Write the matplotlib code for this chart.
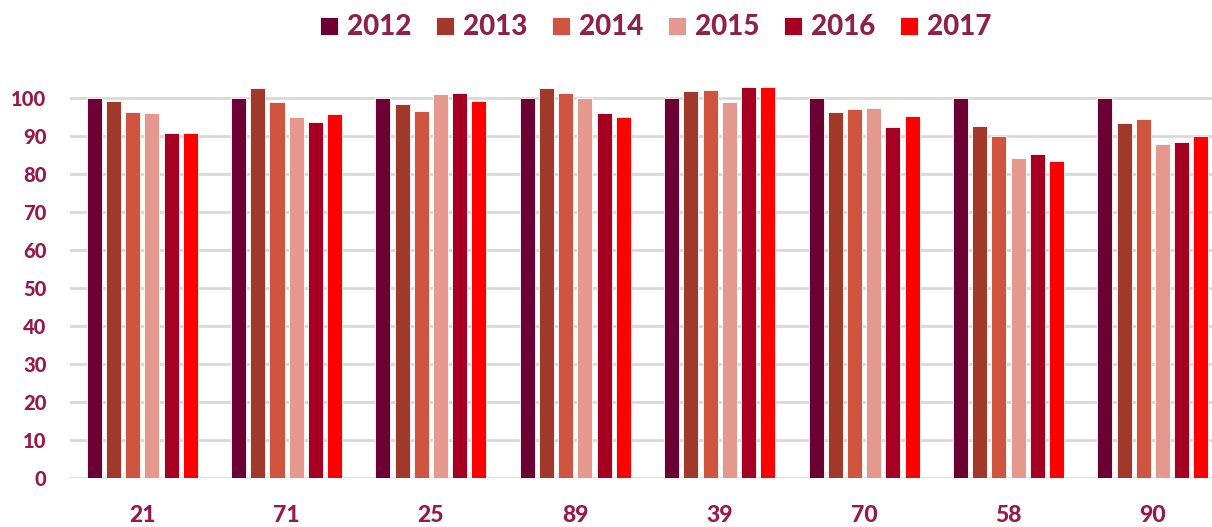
import matplotlib
matplotlib.use('Agg')
import matplotlib.pyplot as plt
import numpy as np

plt.rcParams['font.family'] = ['Lato', 'DejaVu Sans']

categorias = ['21', '71', '25', '89', '39', '70', '58', '90']
anos = ['2012', '2013', '2014', '2015', '2016', '2017']
v2012 = [100, 100, 100, 100, 100, 100, 100, 100]
v2013 = [99.4, 102.8, 98.5, 102.8, 101.9, 96.4, 92.6, 93.4]
v2014 = [96.3, 99.0, 96.7, 101.3, 102.2, 97.2, 90.2, 94.7]
v2015 = [96.1, 95.1, 101.1, 100.1, 99.0, 97.5, 84.2, 87.9]
v2016 = [90.8, 93.7, 101.4, 96.1, 102.9, 92.5, 85.3, 88.5]
v2017 = [90.8, 96.0, 99.2, 95.0, 103.0, 95.3, 83.6, 90.0]
series = [v2012, v2013, v2014, v2015, v2016, v2017]
cores = ['#6B0032', '#A0392A', '#D05541', '#E5988D', '#A50021', '#FF0000']
cor_texto = '#99184A'
peso = 900

fig = plt.figure(figsize=(12.12, 5.27), dpi=100)
ax = fig.add_axes([0.0578, 0.0924, 0.9422, 0.757])

x = np.arange(len(categorias))
passo = 0.133
largura = 0.104
for i, (s, c, a) in enumerate(zip(series, cores, anos)):
    ax.bar(x + (i - 2.5) * passo, s, width=largura, color=c, label=a,
           edgecolor='white', linewidth=0.6, zorder=3)

ax.set_xlim(-0.5, 7.41)
ax.set_ylim(0, 105)
ax.set_yticks(range(0, 101, 10))
ax.yaxis.grid(True, color='#D9D9D9', linewidth=2, zorder=0)
ax.set_axisbelow(True)
for sp in ax.spines.values():
    sp.set_visible(False)
ax.set_xticks(x)
ax.set_xticklabels(categorias)
ax.tick_params(axis='both', length=0)
ax.tick_params(axis='y', pad=17, labelsize=14.5, labelcolor=cor_texto)
ax.tick_params(axis='x', pad=19, labelsize=16.5, labelcolor=cor_texto)
for t in ax.get_xticklabels() + ax.get_yticklabels():
    t.set_fontweight(peso)

leg = fig.legend(loc='upper center', bbox_to_anchor=(0.541, 1.02), ncol=6,
                 frameon=False, handlelength=0.64, handleheight=0.62,
                 handletextpad=0.32, columnspacing=0.9,
                 prop={'size': 20, 'weight': peso})
for t in leg.get_texts():
    t.set_color('#8F2048')

plt.savefig('out.png', dpi=100)
